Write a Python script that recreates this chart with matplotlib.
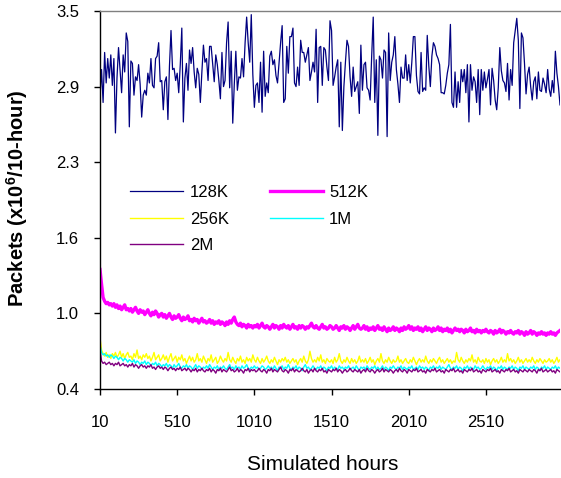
#!/usr/bin/env python3
"""Packets per 10-hour bin for five buffer sizes over simulated hours.

Output: out.png
"""
import numpy as np
import matplotlib
matplotlib.use("Agg")
import matplotlib.pyplot as plt

plt.rcParams["font.family"] = ["Liberation Sans", "DejaVu Sans"]
plt.rcParams["mathtext.fontset"] = "custom"
plt.rcParams["mathtext.rm"] = "Liberation Sans"
plt.rcParams["mathtext.bf"] = "Liberation Sans:bold"

# ---- data (x 10^6 packets per 10-hour bin, one value every 10 hours) ----
S128K = [
    2.80, 3.02, 2.75, 3.16, 2.91, 3.11, 2.95, 3.14, 2.89, 3.11,
    2.50, 2.95, 3.20, 3.02, 2.83, 3.14, 3.00, 3.32, 3.25, 2.55,
    3.09, 3.07, 2.81, 2.96, 2.93, 3.06, 2.90, 2.63, 2.81, 2.85,
    2.81, 2.99, 2.91, 3.11, 2.89, 2.87, 3.11, 3.13, 3.24, 2.92,
    2.93, 2.69, 2.92, 2.96, 2.61, 3.05, 3.34, 3.02, 3.03, 2.93,
    2.99, 2.83, 3.06, 3.36, 2.59, 2.95, 3.07, 2.85, 3.18, 3.07,
    3.20, 3.00, 2.87, 3.03, 2.98, 2.75, 3.00, 3.22, 3.08, 3.11,
    2.93, 3.21, 3.21, 3.07, 2.92, 3.14, 3.06, 2.93, 2.78, 3.16,
    2.88, 2.93, 3.24, 3.41, 2.87, 3.17, 2.58, 2.90, 3.17, 2.85,
    2.96, 2.95, 3.11, 2.96, 3.24, 3.45,
    3.24, 3.08, 3.47, 2.98, 2.71, 2.89, 2.91, 2.75, 3.08, 2.67,
    3.17, 2.80, 2.91, 2.83, 3.13, 3.17, 3.06, 3.10, 2.97, 2.91,
    3.08, 3.24, 3.38, 2.75, 2.78, 3.21, 2.99, 3.29, 3.29, 3.36,
    2.91, 2.88, 3.04, 2.89, 3.26, 3.16, 3.16, 3.08, 3.14, 3.20,
    2.93, 3.00, 3.08, 3.00, 3.35, 2.75, 3.20, 3.21, 2.89, 3.20,
    3.18, 3.04, 2.93, 3.42, 3.34, 2.89, 2.96, 3.04, 3.10, 2.55,
    3.08, 2.52, 2.88, 3.08, 3.26, 3.21, 2.96, 2.80, 3.04, 2.84,
    2.88, 2.92, 2.66, 3.22, 2.85, 3.06, 3.08, 2.87, 2.85, 2.77,
    3.13, 3.45, 2.75, 3.10, 2.48, 3.13, 3.10, 2.95, 3.18, 3.16,
    2.47, 3.32,
    2.93, 3.08, 3.14, 3.29, 3.02, 2.90, 2.75, 3.04, 2.95, 2.95,
    3.14, 2.93, 3.06, 2.91, 3.08, 3.29, 3.29, 2.97, 2.84, 2.82,
    3.16, 2.84, 2.87, 2.85, 3.30, 3.05, 2.88, 3.13, 3.24, 3.21,
    3.14, 3.11, 3.06, 2.83, 2.83, 2.82, 2.89, 2.99, 3.06, 3.39,
    2.75, 2.71, 3.00, 2.71, 2.92, 2.75, 3.02, 2.92, 3.02, 2.83,
    3.06, 2.59, 3.06, 2.85, 2.96, 2.92, 2.75, 3.02, 2.65, 3.02,
    2.85, 3.00, 2.87, 2.94, 3.02, 2.73, 3.03, 2.93, 2.77, 2.69,
    2.87, 3.20, 3.01, 2.93, 2.91, 2.84, 3.07, 2.77, 3.02, 2.89,
    3.24, 3.34, 3.44, 3.26, 2.70, 3.32, 3.28, 3.07, 2.82, 2.98,
    3.04, 2.88, 2.77, 2.92, 2.96, 2.78, 3.00, 2.85, 2.84, 2.95,
    2.90, 2.83, 3.02, 2.86, 2.80, 2.93, 2.83, 3.17, 2.99, 2.88,
    2.73,
]

S512K = [
    1.38, 1.26, 1.15, 1.12, 1.10, 1.11, 1.09, 1.10, 1.08, 1.10,
    1.07, 1.09, 1.06, 1.08, 1.05, 1.07, 1.09, 1.05, 1.06, 1.04,
    1.06, 1.03, 1.05, 1.07, 1.04, 1.02, 1.05, 1.03, 1.04, 1.01,
    1.03, 1.05, 1.02, 1.00, 1.03, 1.01, 1.04, 1.02, 0.99, 1.01,
    1.02, 0.99, 1.01, 0.98, 1.00, 1.02, 0.99, 0.97, 1.00, 0.98,
    0.99, 1.01, 0.98, 0.96, 0.99, 0.97, 0.98, 1.00, 0.96, 0.97,
    0.95, 0.98, 0.96, 0.97, 0.94, 0.96, 0.98, 0.95, 0.96, 0.94,
    0.95, 0.97, 0.94, 0.96, 0.93, 0.95, 0.94, 0.96, 0.93, 0.95,
    0.94, 0.92, 0.95, 0.93, 0.96, 0.94, 0.97, 0.99, 0.95, 0.93,
    0.92, 0.94, 0.91, 0.93, 0.92, 0.90, 0.93, 0.91, 0.92, 0.90,
    0.92, 0.91, 0.93, 0.90, 0.92, 0.94, 0.91, 0.90, 0.92, 0.91,
    0.89, 0.91, 0.93, 0.90, 0.92, 0.91, 0.89, 0.92, 0.90, 0.93,
    0.91, 0.90, 0.92, 0.89, 0.91, 0.93, 0.90, 0.91, 0.89, 0.92,
    0.90, 0.92, 0.91, 0.89, 0.91, 0.90, 0.92, 0.94, 0.91, 0.90,
    0.92, 0.90, 0.89, 0.91, 0.93, 0.90, 0.91, 0.89, 0.90, 0.92,
    0.91, 0.89, 0.90, 0.92, 0.90, 0.88, 0.91, 0.90, 0.92, 0.89,
    0.91, 0.90, 0.88, 0.90, 0.92, 0.89, 0.91, 0.93, 0.90, 0.89,
    0.90, 0.92, 0.89, 0.91, 0.88, 0.90, 0.89, 0.91, 0.88, 0.90,
    0.92, 0.89, 0.90, 0.88, 0.91, 0.89, 0.87, 0.90, 0.88, 0.89,
    0.91, 0.88, 0.90, 0.89, 0.87, 0.90, 0.88, 0.91, 0.89, 0.90,
    0.92, 0.89, 0.91, 0.88, 0.90, 0.89, 0.91, 0.88, 0.90, 0.87,
    0.89, 0.91, 0.88, 0.90, 0.89, 0.87, 0.90, 0.88, 0.89, 0.91,
    0.88, 0.90, 0.87, 0.89, 0.88, 0.90, 0.87, 0.89, 0.86, 0.88,
    0.90, 0.88, 0.89, 0.87, 0.89, 0.88, 0.86, 0.89, 0.87, 0.88,
    0.90, 0.87, 0.88, 0.86, 0.89, 0.87, 0.88, 0.86, 0.88, 0.87,
    0.89, 0.87, 0.86, 0.88, 0.87, 0.85, 0.88, 0.86, 0.87, 0.89,
    0.86, 0.88, 0.87, 0.85, 0.87, 0.86, 0.88, 0.86, 0.85, 0.87,
    0.86, 0.88, 0.85, 0.87, 0.86, 0.84, 0.87, 0.85, 0.86, 0.88,
    0.85, 0.87, 0.86, 0.84, 0.86, 0.85, 0.87, 0.85, 0.86, 0.84,
    0.86, 0.85, 0.87, 0.85, 0.86, 0.84, 0.86, 0.87, 0.88,
]

S256K = [
    0.82, 0.72, 0.69, 0.67, 0.70, 0.66, 0.68, 0.65, 0.69, 0.67,
    0.70, 0.66, 0.68, 0.71, 0.66, 0.69, 0.65, 0.68, 0.70, 0.66,
    0.67, 0.64, 0.69, 0.66, 0.72, 0.65, 0.67, 0.64, 0.68, 0.66,
    0.69, 0.65, 0.67, 0.63, 0.66, 0.70, 0.64, 0.66, 0.68, 0.63,
    0.65, 0.68, 0.64, 0.67, 0.62, 0.66, 0.69, 0.63, 0.65, 0.67,
    0.62, 0.66, 0.64, 0.68, 0.63, 0.65, 0.61, 0.64, 0.67, 0.63,
    0.66, 0.62, 0.64, 0.69, 0.63, 0.65, 0.62, 0.67, 0.64, 0.61,
    0.65, 0.63, 0.68, 0.62, 0.64, 0.66, 0.61, 0.63, 0.67, 0.64,
    0.62, 0.65, 0.63, 0.70, 0.64, 0.62, 0.66, 0.63, 0.61, 0.65,
    0.63, 0.67, 0.62, 0.64, 0.61, 0.66, 0.63, 0.65, 0.62, 0.68,
    0.64, 0.62, 0.66, 0.63, 0.61, 0.65, 0.62, 0.64, 0.67, 0.63,
    0.61, 0.64, 0.62, 0.66, 0.63, 0.60, 0.64, 0.62, 0.65, 0.63,
    0.66, 0.62, 0.64, 0.61, 0.63, 0.65, 0.62, 0.64, 0.60, 0.63,
    0.65, 0.62, 0.67, 0.63, 0.61, 0.64, 0.71, 0.65, 0.62, 0.64,
    0.62, 0.66, 0.63, 0.68, 0.62, 0.64, 0.61, 0.65, 0.63, 0.62,
    0.64, 0.61, 0.66, 0.62, 0.64, 0.69, 0.63, 0.61, 0.64, 0.62,
    0.66, 0.63, 0.61, 0.65, 0.62, 0.64, 0.61, 0.63, 0.67, 0.62,
    0.64, 0.62, 0.65, 0.61, 0.63, 0.66, 0.62, 0.64, 0.60, 0.63,
    0.65, 0.62, 0.69, 0.63, 0.61, 0.64, 0.62, 0.66, 0.63, 0.61,
    0.64, 0.62, 0.63, 0.67, 0.62, 0.64, 0.61, 0.63, 0.65, 0.62,
    0.61, 0.64, 0.62, 0.66, 0.63, 0.60, 0.63, 0.65, 0.62, 0.64,
    0.62, 0.67, 0.63, 0.61, 0.64, 0.62, 0.65, 0.63, 0.61, 0.64,
    0.66, 0.62, 0.64, 0.61, 0.63, 0.65, 0.62, 0.64, 0.61, 0.63,
    0.62, 0.70, 0.64, 0.62, 0.66, 0.63, 0.61, 0.64, 0.62, 0.65,
    0.63, 0.68, 0.62, 0.64, 0.61, 0.66, 0.63, 0.62, 0.64, 0.61,
    0.65, 0.62, 0.64, 0.60, 0.63, 0.65, 0.62, 0.64, 0.61, 0.63,
    0.66, 0.62, 0.64, 0.62, 0.69, 0.63, 0.65, 0.62, 0.64, 0.61,
    0.63, 0.66, 0.62, 0.64, 0.61, 0.63, 0.65, 0.62, 0.64, 0.62,
    0.66, 0.63, 0.61, 0.64, 0.62, 0.65, 0.63, 0.61, 0.64, 0.62,
    0.63, 0.65, 0.62, 0.64, 0.61, 0.63, 0.66, 0.62, 0.64,
]

S1M = [
    0.76, 0.70, 0.68, 0.69, 0.67, 0.68, 0.66, 0.68, 0.67, 0.65,
    0.67, 0.66, 0.64, 0.66, 0.65, 0.63, 0.65, 0.64, 0.62, 0.64,
    0.63, 0.62, 0.64, 0.61, 0.63, 0.62, 0.60, 0.62, 0.61, 0.63,
    0.60, 0.62, 0.61, 0.59, 0.61, 0.60, 0.62, 0.59, 0.61, 0.60,
    0.58, 0.60, 0.59, 0.61, 0.58, 0.60, 0.59, 0.57, 0.60, 0.58,
    0.59, 0.61, 0.58, 0.57, 0.59, 0.58, 0.60, 0.57, 0.59, 0.58,
    0.56, 0.58, 0.60, 0.57, 0.59, 0.58, 0.56, 0.58, 0.57, 0.59,
    0.57, 0.60, 0.58, 0.56, 0.58, 0.57, 0.59, 0.56, 0.58, 0.57,
    0.59, 0.57, 0.56, 0.58, 0.60, 0.57, 0.58, 0.56, 0.59, 0.57,
    0.58, 0.56, 0.59, 0.57, 0.58, 0.60, 0.57, 0.56, 0.58, 0.57,
    0.59, 0.57, 0.58, 0.56, 0.57, 0.59, 0.58, 0.56, 0.57, 0.59,
    0.57, 0.58, 0.56, 0.59, 0.57, 0.55, 0.58, 0.57, 0.59, 0.56,
    0.58, 0.57, 0.60, 0.57, 0.56, 0.58, 0.57, 0.59, 0.56, 0.58,
    0.57, 0.55, 0.58, 0.60, 0.57, 0.58, 0.56, 0.57, 0.59, 0.57,
    0.56, 0.58, 0.57, 0.59, 0.56, 0.58, 0.57, 0.55, 0.58, 0.57,
    0.59, 0.56, 0.58, 0.57, 0.56, 0.59, 0.57, 0.58, 0.56, 0.58,
    0.57, 0.59, 0.56, 0.57, 0.58, 0.56, 0.59, 0.57, 0.55, 0.58,
    0.57, 0.58, 0.56, 0.59, 0.57, 0.56, 0.58, 0.57, 0.59, 0.56,
    0.58, 0.56, 0.57, 0.59, 0.56, 0.58, 0.57, 0.55, 0.58, 0.57,
    0.59, 0.57, 0.56, 0.58, 0.57, 0.59, 0.56, 0.58, 0.57, 0.56,
    0.58, 0.57, 0.59, 0.56, 0.57, 0.58, 0.56, 0.59, 0.57, 0.58,
    0.56, 0.58, 0.57, 0.55, 0.58, 0.57, 0.59, 0.56, 0.58, 0.57,
    0.59, 0.56, 0.58, 0.57, 0.56, 0.58, 0.60, 0.57, 0.56, 0.58,
    0.57, 0.59, 0.56, 0.58, 0.57, 0.55, 0.58, 0.57, 0.59, 0.56,
    0.58, 0.57, 0.56, 0.59, 0.57, 0.58, 0.56, 0.57, 0.59, 0.57,
    0.56, 0.58, 0.57, 0.59, 0.56, 0.58, 0.57, 0.55, 0.58, 0.57,
    0.59, 0.56, 0.58, 0.57, 0.56, 0.58, 0.57, 0.59, 0.56, 0.58,
    0.57, 0.55, 0.58, 0.57, 0.59, 0.56, 0.58, 0.57, 0.56, 0.58,
    0.57, 0.59, 0.56, 0.58, 0.57, 0.55, 0.58, 0.57, 0.59, 0.56,
    0.58, 0.57, 0.56, 0.58, 0.57, 0.59, 0.56, 0.58, 0.57,
]

S2M = [
    0.72, 0.63, 0.61, 0.62, 0.60, 0.61, 0.62, 0.60, 0.61, 0.59,
    0.61, 0.60, 0.62, 0.59, 0.60, 0.61, 0.59, 0.60, 0.58, 0.60,
    0.59, 0.61, 0.58, 0.60, 0.59, 0.57, 0.59, 0.60, 0.58, 0.59,
    0.57, 0.59, 0.58, 0.60, 0.57, 0.58, 0.56, 0.58, 0.59, 0.57,
    0.58, 0.56, 0.58, 0.57, 0.55, 0.57, 0.58, 0.56, 0.57, 0.55,
    0.57, 0.56, 0.58, 0.55, 0.56, 0.57, 0.55, 0.57, 0.56, 0.54,
    0.56, 0.55, 0.57, 0.54, 0.56, 0.55, 0.57, 0.55, 0.54, 0.56,
    0.55, 0.57, 0.54, 0.56, 0.55, 0.53, 0.56, 0.55, 0.57, 0.54,
    0.56, 0.55, 0.54, 0.56, 0.58, 0.55, 0.56, 0.54, 0.55, 0.57,
    0.54, 0.56, 0.55, 0.53, 0.56, 0.55, 0.57, 0.54, 0.56, 0.55,
    0.56, 0.54, 0.55, 0.57, 0.55, 0.54, 0.56, 0.55, 0.53, 0.56,
    0.55, 0.57, 0.54, 0.56, 0.55, 0.54, 0.56, 0.58, 0.55, 0.54,
    0.56, 0.55, 0.53, 0.56, 0.55, 0.57, 0.54, 0.56, 0.55, 0.54,
    0.55, 0.57, 0.55, 0.54, 0.56, 0.53, 0.55, 0.56, 0.54, 0.57,
    0.55, 0.54, 0.56, 0.55, 0.57, 0.54, 0.55, 0.53, 0.56, 0.55,
    0.54, 0.56, 0.55, 0.57, 0.54, 0.56, 0.55, 0.53, 0.55, 0.56,
    0.54, 0.55, 0.57, 0.55, 0.54, 0.56, 0.55, 0.54, 0.56, 0.53,
    0.55, 0.56, 0.54, 0.57, 0.55, 0.54, 0.56, 0.55, 0.53, 0.55,
    0.56, 0.54, 0.55, 0.57, 0.54, 0.56, 0.55, 0.54, 0.56, 0.55,
    0.53, 0.55, 0.56, 0.54, 0.57, 0.55, 0.54, 0.56, 0.55, 0.53,
    0.56, 0.55, 0.54, 0.56, 0.55, 0.57, 0.54, 0.55, 0.56, 0.54,
    0.55, 0.53, 0.56, 0.55, 0.54, 0.56, 0.55, 0.57, 0.54, 0.55,
    0.56, 0.54, 0.55, 0.53, 0.56, 0.55, 0.54, 0.56, 0.55, 0.57,
    0.54, 0.55, 0.56, 0.54, 0.55, 0.53, 0.56, 0.55, 0.54, 0.56,
    0.55, 0.57, 0.54, 0.55, 0.56, 0.54, 0.55, 0.53, 0.56, 0.55,
    0.54, 0.56, 0.55, 0.57, 0.54, 0.55, 0.56, 0.54, 0.55, 0.53,
    0.56, 0.55, 0.54, 0.56, 0.55, 0.57, 0.54, 0.55, 0.56, 0.54,
    0.55, 0.53, 0.56, 0.55, 0.54, 0.56, 0.55, 0.54, 0.56, 0.55,
    0.54, 0.56, 0.55, 0.53, 0.56, 0.55, 0.57, 0.54, 0.55, 0.56,
    0.54, 0.55, 0.56, 0.54, 0.55, 0.53, 0.56, 0.55, 0.54,
]

X_TICKS = [10, 510, 1010, 1510, 2010, 2510]
Y_TICKS = [0.4, 1.02, 1.64, 2.26, 2.88, 3.5]
Y_TICK_LABELS = ["0.4", "1.0", "1.6", "2.3", "2.9", "3.5"]

W, H = 561, 478


def hours(series):
    return np.arange(1, len(series) + 1) * 10


def main():
    fig = plt.figure(figsize=(W / 100, H / 100), dpi=100)
    fig.patch.set_facecolor("white")
    ax = fig.add_axes([100 / W, 1 - 389 / H, 460 / W, 378 / H])

    l128, = ax.plot(hours(S128K), S128K, color="#000080", lw=0.9, label="128K")
    l256, = ax.plot(hours(S256K), S256K, color="#FFFF00", lw=1.0, label="256K")
    l512, = ax.plot(hours(S512K), S512K, color="#FF00FF", lw=2.4, label="512K")
    l1m, = ax.plot(hours(S1M), S1M, color="#00FFFF", lw=1.0, label="1M")
    l2m, = ax.plot(hours(S2M), S2M, color="#800080", lw=1.0, label="2M")

    ax.set_xlim(10, 2990)
    ax.set_ylim(0.4, 3.5)
    ax.set_xticks(X_TICKS)
    ax.set_xticklabels([str(t) for t in X_TICKS])
    ax.set_yticks(Y_TICKS)
    ax.set_yticklabels(Y_TICK_LABELS)

    for side in ("left", "bottom"):
        ax.spines[side].set_color("black")
        ax.spines[side].set_linewidth(1.0)
    ax.spines["top"].set_color("#808080")
    ax.spines["top"].set_linewidth(1.0)
    ax.spines["right"].set_visible(False)

    ax.tick_params(axis="both", direction="out", length=4, width=1.0,
                   labelsize=12, colors="black")
    ax.tick_params(axis="y", pad=11)
    ax.tick_params(axis="x", pad=15)

    # legend laid out row-wise: 128K 512K / 256K 1M / 2M
    handles = [l128, l256, l2m, l512, l1m]
    ax.legend(handles=handles, labels=[h.get_label() for h in handles],
              ncol=2, frameon=False, loc="upper left",
              bbox_to_anchor=(130 / W, 1 - 185 / H),
              bbox_transform=fig.transFigure,
              fontsize=12, handlelength=3.2, handletextpad=0.38,
              columnspacing=2.45, labelspacing=0.7, borderpad=0,
              borderaxespad=0)

    fig.text(323 / W, 1 - 465 / H, "Simulated hours", ha="center",
             va="center", fontsize=15)
    fig.text(17 / W, 1 - 198 / H, r"Packets (x10$^\mathbf{6}$/10-hour)",
             ha="center", va="center", rotation=90, fontsize=14.5,
             fontweight="bold")

    fig.savefig("out.png", dpi=100, facecolor="white")
    plt.close(fig)


if __name__ == "__main__":
    main()
